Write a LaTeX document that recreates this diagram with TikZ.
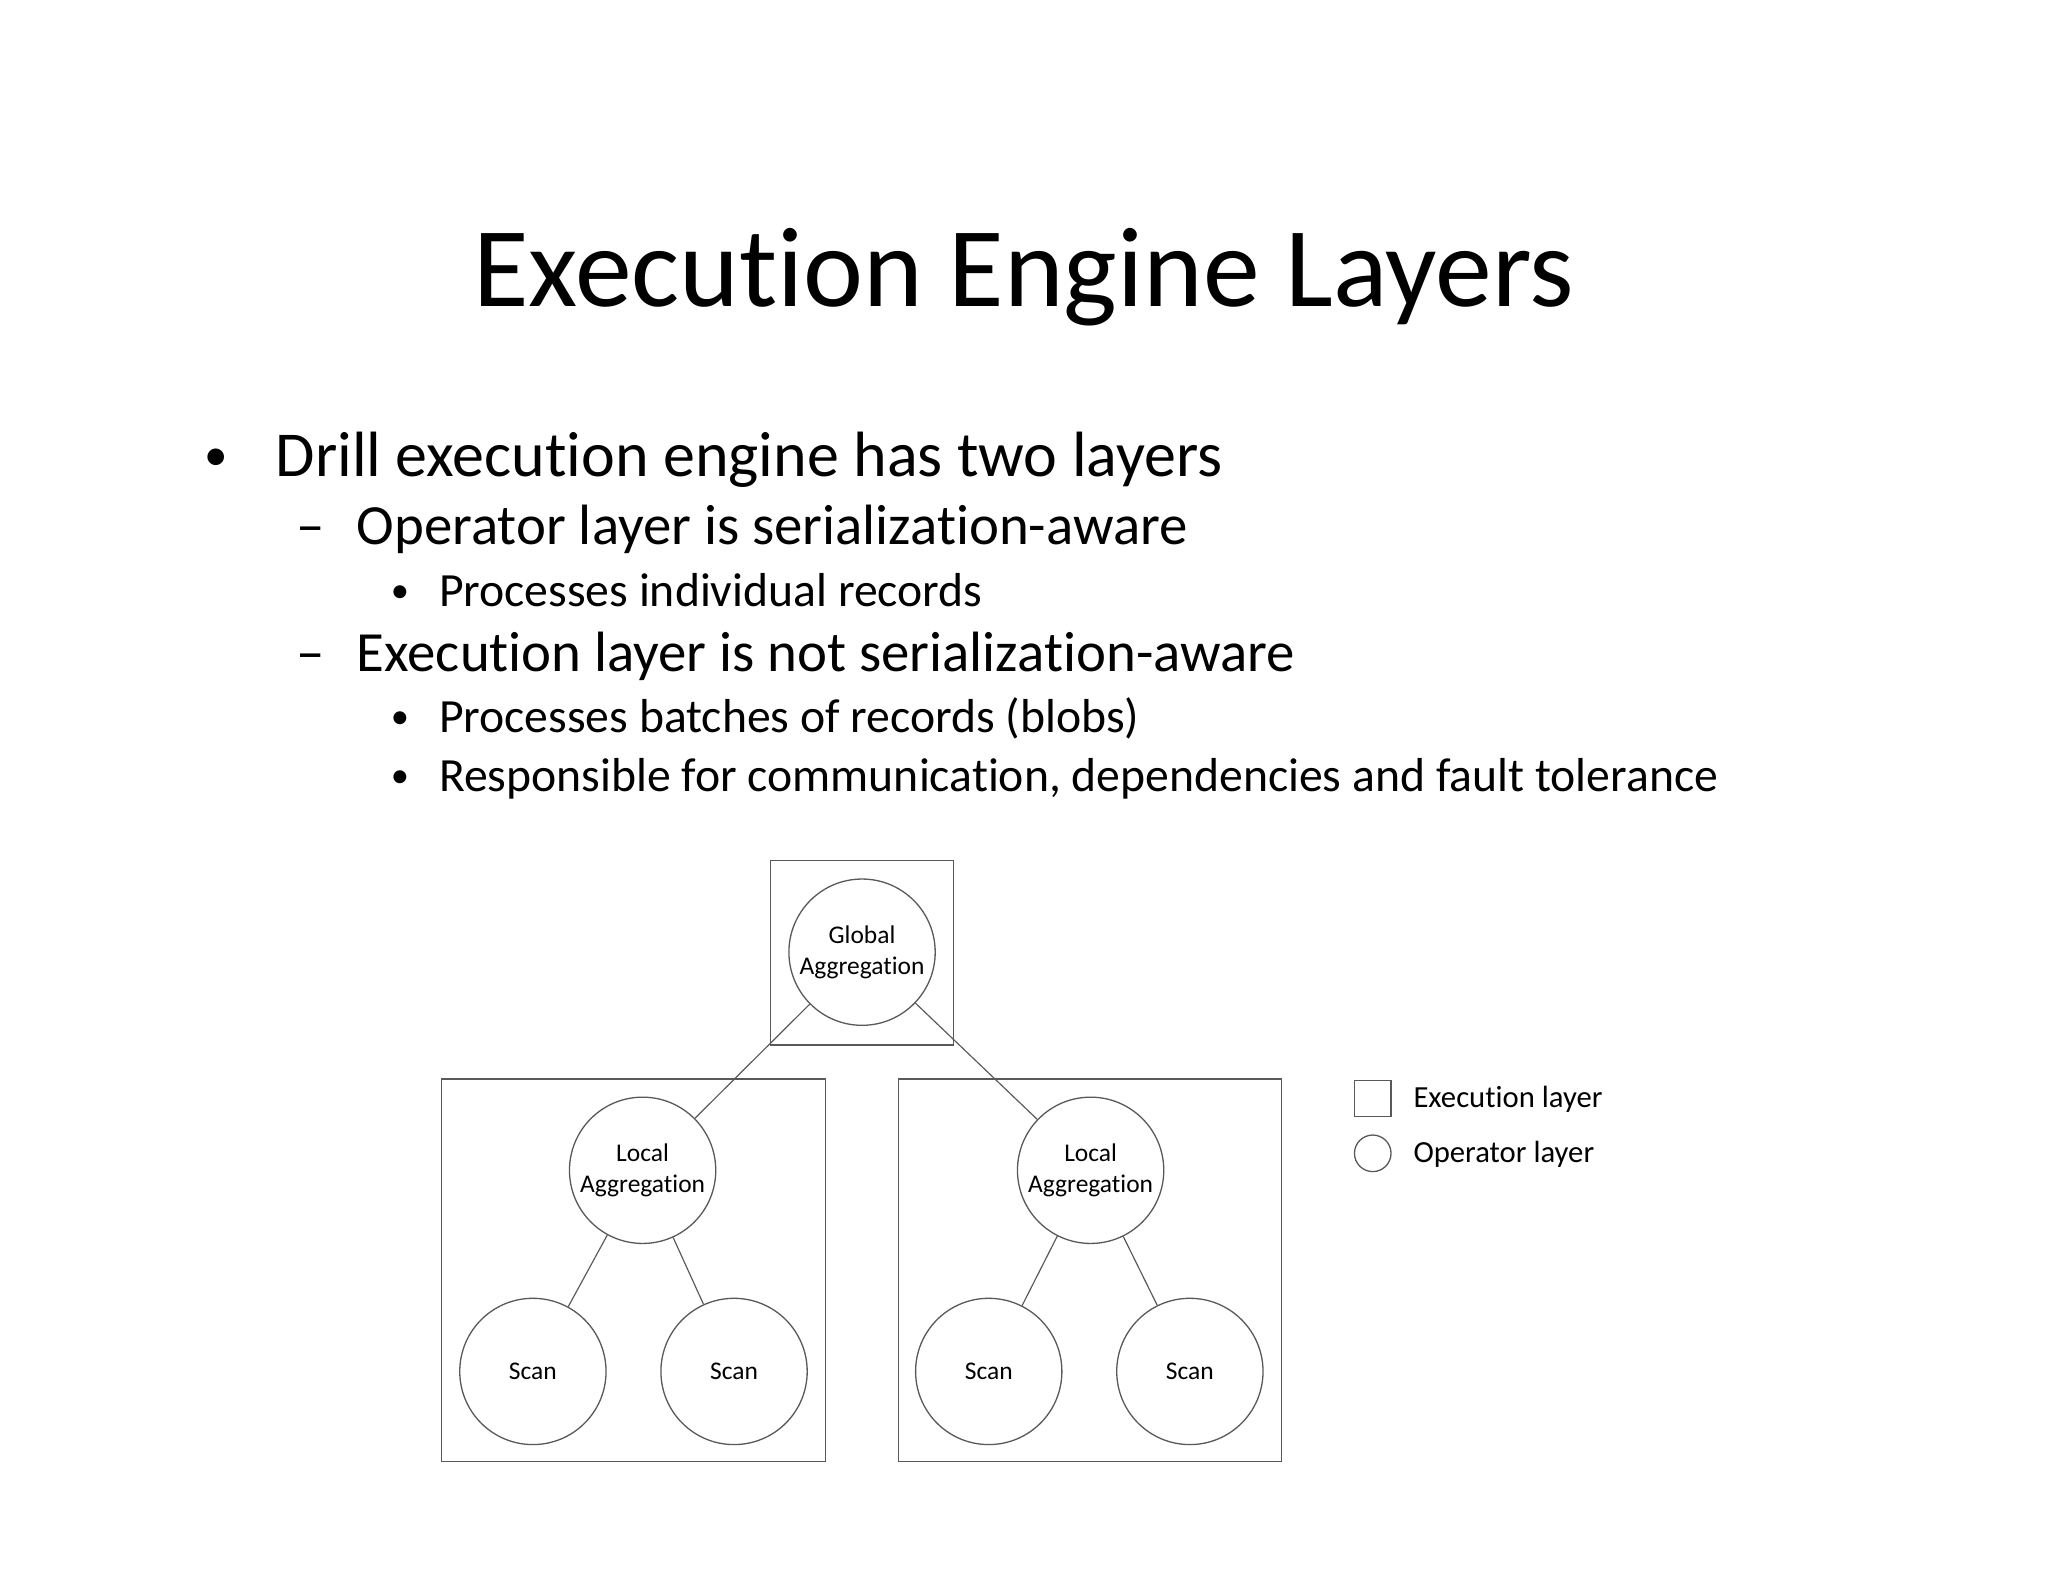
\documentclass[tikz,border=0pt]{standalone}
\usepackage{fontspec}
\setmainfont{Carlito}[RawFeature={-liga;-clig;-calt}]
\begin{document}
\begin{tikzpicture}[x=1pt,y=-1pt,
  op/.style={circle,draw=black!65,line width=1pt,minimum size=112pt,inner sep=0pt,align=center,font=\fontsize{19.5}{24}\selectfont},
  ex/.style={draw=black!65,line width=1pt},
  link/.style={draw=black!65,line width=0.9pt},
  txt/.style={anchor=base west,inner sep=0pt}]
\useasboundingbox (0,0) rectangle (1568,1211);
\node[anchor=base,inner sep=0pt,font=\fontsize{87}{96}\selectfont] (title) at (784,235) {Execution Engine Layers};
\node[txt,font=\fontsize{36}{40}\selectfont] (b1) at (156,360) {•};
\node[txt,font=\fontsize{49}{54}\selectfont] (t1) at (211,365) {Drill execution engine has two layers};
\node[txt,font=\fontsize{43.5}{48}\selectfont] (b2) at (227,417) {–};
\node[txt,font=\fontsize{43.5}{48}\selectfont] (t2) at (273,417) {Operator layer is serialization-aware};
\node[txt,font=\fontsize{28}{32}\selectfont] (b3) at (299,461) {•};
\node[txt,font=\fontsize{36.5}{42}\selectfont] (t3) at (336,464) {Processes individual records};
\node[txt,font=\fontsize{43.5}{48}\selectfont] (b4) at (227,514) {–};
\node[txt,font=\fontsize{43.5}{48}\selectfont] (t4) at (273,514) {Execution layer is not serialization-aware};
\node[txt,font=\fontsize{28}{32}\selectfont] (b5) at (299,558) {•};
\node[txt,font=\fontsize{36.5}{42}\selectfont] (t5) at (336,561) {Processes batches of records (blobs)};
\node[txt,font=\fontsize{28}{32}\selectfont] (b6) at (299,603) {•};
\node[txt,font=\fontsize{36.5}{42}\selectfont] (t6) at (336,606) {Responsible for communication, dependencies and fault tolerance};
% execution boxes
\draw[ex] (590,659) rectangle (730,800);
\draw[ex] (338,826) rectangle (632,1119);
\draw[ex] (688,826) rectangle (981,1119);
% operators
\node[op] (g) at (660,729) {Global\\Aggregation};
\node[op] (l1) at (492,896) {Local\\Aggregation};
\node[op] (l2) at (835,896) {Local\\Aggregation};
\node[op] (s1) at (408,1050) {Scan};
\node[op] (s2) at (562,1050) {Scan};
\node[op] (s3) at (757,1050) {Scan};
\node[op] (s4) at (911,1050) {Scan};
\draw[link] (g) -- (l1);
\draw[link] (g) -- (l2);
\draw[link] (l1) -- (s1);
\draw[link] (l1) -- (s2);
\draw[link] (l2) -- (s3);
\draw[link] (l2) -- (s4);
% legend
\node[draw=black!65,line width=1pt,minimum size=28pt,inner sep=0pt] (lgx) at (1051,841) {};
\node[circle,draw=black!65,line width=1pt,minimum size=28pt,inner sep=0pt] (lgo) at (1051,883) {};
\node[txt,font=\fontsize{23.5}{28}\selectfont] (lx) at (1082,848) {Execution layer};
\node[txt,font=\fontsize{23.5}{28}\selectfont] (lo) at (1082,890) {Operator layer};
\end{tikzpicture}
\end{document}
